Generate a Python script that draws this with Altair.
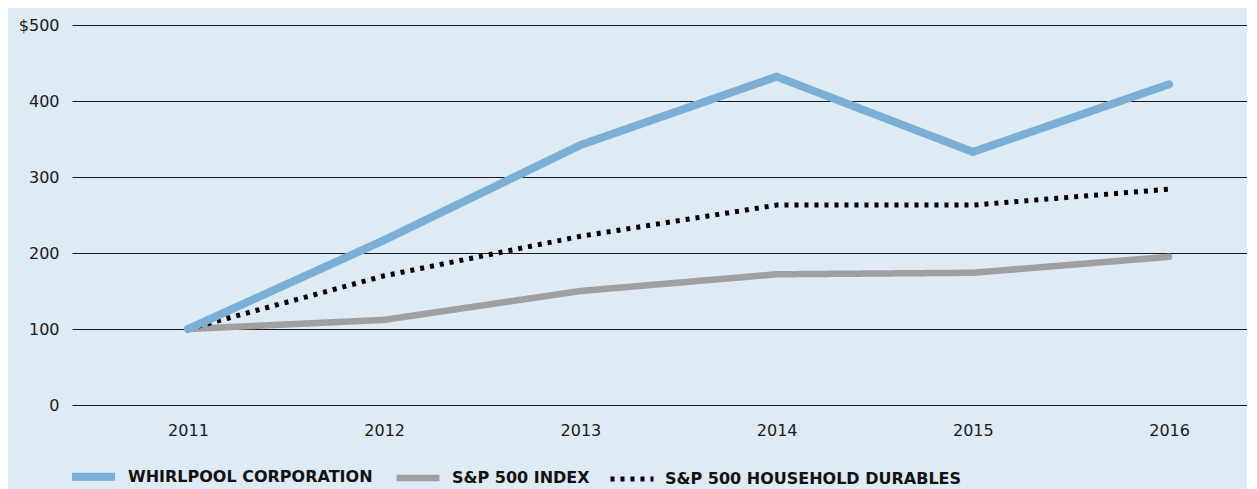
import altair as alt
import pandas as pd

years = [2011, 2012, 2013, 2014, 2015, 2016]
whirlpool = [100, 217, 342, 432, 333, 422]
sp500 = [100, 112, 150, 172, 174, 195]
durables = [100, 170, 222, 263, 263, 284]

series_names = ["WHIRLPOOL CORPORATION", "S&P 500 INDEX", "S&P 500 HOUSEHOLD DURABLES"]
series_colors = ["#7bafd6", "#a0a0a3", "#000000"]
series_widths = [8, 5, 5]
series_dashes = [[1, 0], [1, 0], [4, 6]]

rows = []
for name, vals in zip(series_names, [whirlpool, sp500, durables]):
    for y, v in zip(years, vals):
        rows.append({"year": y, "value": v, "series": name})
df = pd.DataFrame(rows)

FONT = "DejaVu Sans"


def make_legend():
    return alt.Legend(title=None, orient="none", legendX=-4, legendY=426,
                      direction="horizontal", symbolType="stroke",
                      symbolSize=1849, labelOffset=9, columnPadding=10,
                      labelFont=FONT, labelFontSize=16, labelFontWeight="bold",
                      labelColor="#111111", labelLimit=400)


color = alt.Color("series:N", scale=alt.Scale(domain=series_names, range=series_colors),
                  legend=make_legend())
dash = alt.StrokeDash("series:N", scale=alt.Scale(domain=series_names, range=series_dashes),
                      legend=make_legend())
width = alt.StrokeWidth("series:N", scale=alt.Scale(domain=series_names, range=series_widths),
                        legend=make_legend())

x = alt.X("year:Q", scale=alt.Scale(domain=[2010.409, 2016.397], nice=False, zero=False),
          axis=alt.Axis(title=None, values=years, format="d", grid=False, domain=False, ticks=False,
                        labelFont=FONT, labelFontSize=16, labelColor="#1a1a1a", labelPadding=17))
y = alt.Y("value:Q", scale=alt.Scale(domain=[0, 500], nice=False),
          axis=alt.Axis(title=None, values=[0, 100, 200, 300, 400, 500], grid=True,
                        gridColor="#1a1a1a", gridWidth=1, gridOpacity=1, domain=False, ticks=False,
                        labelFont=FONT, labelFontSize=16, labelColor="#1a1a1a", labelPadding=13,
                        labelExpr="datum.value == 500 ? '$500' : datum.label"))

base = alt.Chart(df).encode(x=x, y=y, color=color, strokeDash=dash, strokeWidth=width)

layer_gray = base.transform_filter(alt.datum.series == series_names[1]).mark_line(strokeCap="round", strokeJoin="round")
layer_dot = base.transform_filter(alt.datum.series == series_names[2]).mark_line(strokeCap="butt", strokeJoin="miter")
layer_blue = base.transform_filter(alt.datum.series == series_names[0]).mark_line(strokeCap="round", strokeJoin="miter")

chart = alt.layer(layer_gray, layer_dot, layer_blue).properties(
    width=1175, height=380,
    autosize=alt.AutoSizeParams(type="none"),
    padding={"left": 64, "top": 17, "right": 0, "bottom": 84},
    background="#deeaf4",
).configure_view(stroke=None)

chart.save("out.html", embed_options={"renderer": "svg", "actions": False})
